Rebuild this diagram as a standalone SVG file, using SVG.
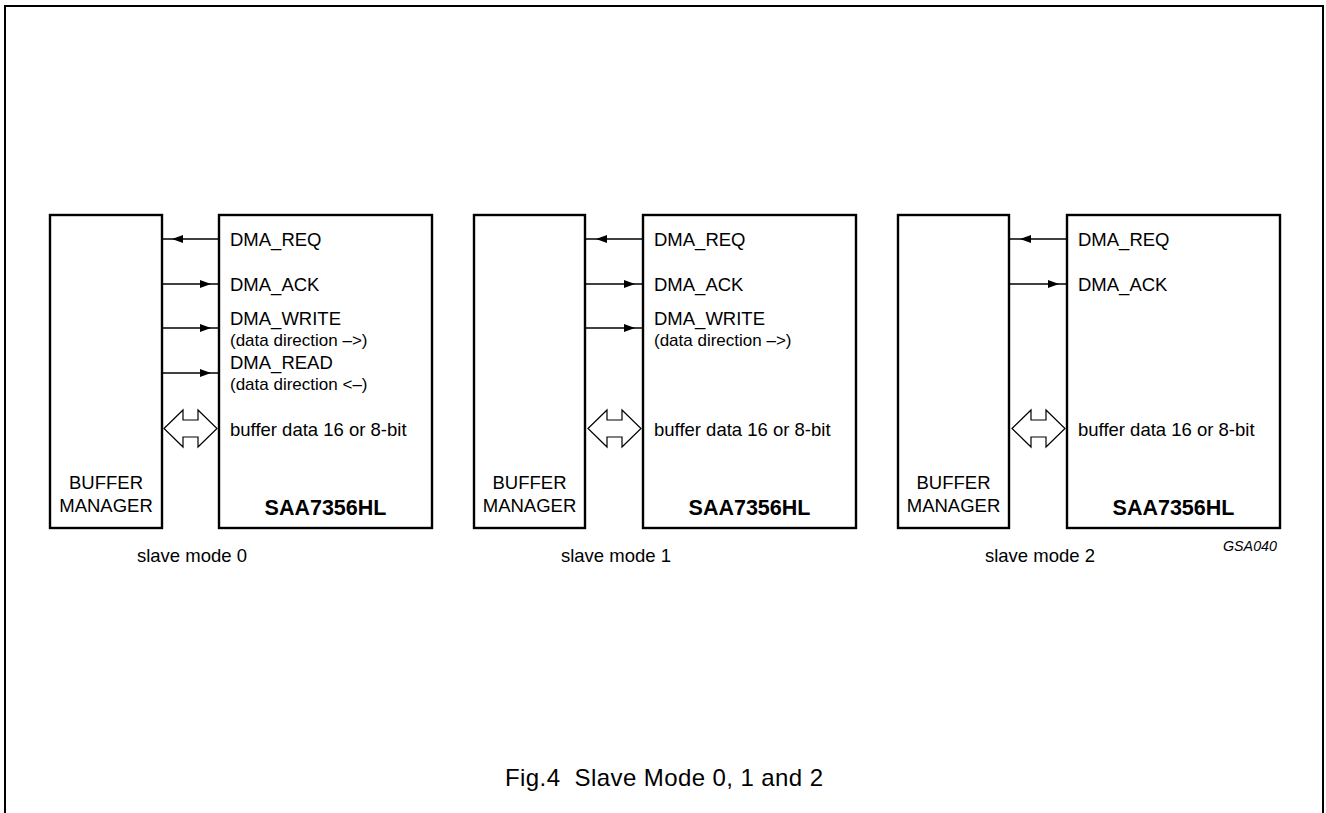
<svg xmlns="http://www.w3.org/2000/svg" width="1326" height="813" viewBox="0 0 1326 813">
<defs>
<style>
.box{fill:#fff;stroke:#000;stroke-width:2.4}
.frame{fill:none;stroke:#000;stroke-width:2}
.ln{stroke:#000;stroke-width:1.3;fill:none}
.bus{fill:#fff;stroke:#000;stroke-width:1.2;stroke-linejoin:miter}
.t{font-family:"Liberation Sans",Arial,sans-serif;font-size:18.5px;fill:#000}
.s{font-family:"Liberation Sans",Arial,sans-serif;font-size:17px;fill:#000}
.b{font-family:"Liberation Sans",Arial,sans-serif;font-size:21.5px;font-weight:bold;fill:#000}
.m{text-anchor:middle}
.cap{font-family:"Liberation Sans",Arial,sans-serif;font-size:24px;fill:#000;white-space:pre}
.id{font-family:"Liberation Sans",Arial,sans-serif;font-size:14.3px;font-style:italic;fill:#000}
</style>
</defs>
<rect width="1326" height="813" fill="#fff"/>
<path class="frame" d="M5,813 V6 H1323 V813"/>

<g id="mode0">
<g id="bm0"><rect class="box" x="50" y="215" width="112" height="313"/>
<text class="t m" x="106" y="489">BUFFER</text><text class="t m" x="106" y="512">MANAGER</text></g>
<g id="saa0"><rect class="box" x="219" y="215" width="213" height="313"/>
<text class="t" x="230" y="246">DMA_REQ</text>
<text class="t" x="230" y="291">DMA_ACK</text>
<text class="t" x="230" y="325">DMA_WRITE</text>
<text class="s" x="230" y="346">(data direction –&gt;)</text>
<text class="t" x="230" y="369">DMA_READ</text>
<text class="s" x="230" y="390">(data direction &lt;–)</text>
<text class="t" x="230" y="436">buffer data 16 or 8-bit</text>
<text class="b m" x="325.5" y="515">SAA7356HL</text></g>
<text class="t m" x="192" y="562">slave mode 0</text>
</g>

<g id="mode1">
<g id="bm1"><rect class="box" x="474" y="215" width="111" height="313"/>
<text class="t m" x="529.5" y="489">BUFFER</text><text class="t m" x="529.5" y="512">MANAGER</text></g>
<g id="saa1"><rect class="box" x="643" y="215" width="213" height="313"/>
<text class="t" x="654" y="246">DMA_REQ</text>
<text class="t" x="654" y="291">DMA_ACK</text>
<text class="t" x="654" y="325">DMA_WRITE</text>
<text class="s" x="654" y="346">(data direction –&gt;)</text>
<text class="t" x="654" y="436">buffer data 16 or 8-bit</text>
<text class="b m" x="749.5" y="515">SAA7356HL</text></g>
<text class="t m" x="616" y="562">slave mode 1</text>
</g>

<g id="mode2">
<g id="bm2"><rect class="box" x="898" y="215" width="111" height="313"/>
<text class="t m" x="953.5" y="489">BUFFER</text><text class="t m" x="953.5" y="512">MANAGER</text></g>
<g id="saa2"><rect class="box" x="1067" y="215" width="213" height="313"/>
<text class="t" x="1078" y="246">DMA_REQ</text>
<text class="t" x="1078" y="291">DMA_ACK</text>
<text class="t" x="1078" y="436">buffer data 16 or 8-bit</text>
<text class="b m" x="1173.5" y="515">SAA7356HL</text></g>
<text class="t m" x="1040" y="562">slave mode 2</text>
</g>

<g id="connectors">
<line class="ln" x1="219" y1="239" x2="162" y2="239"/><path d="M172,239 L183,235 L183,243 Z"/>
<line class="ln" x1="162" y1="284" x2="219" y2="284"/><path d="M211,284 L200,280 L200,288 Z"/>
<line class="ln" x1="162" y1="328" x2="219" y2="328"/><path d="M211,328 L200,324 L200,332 Z"/>
<line class="ln" x1="162" y1="373" x2="219" y2="373"/><path d="M211,373 L200,369 L200,377 Z"/>
<path class="bus" d="M164,428.5 L183,410 L183,420 L198,420 L198,410 L217,428.5 L198,447 L198,437 L183,437 L183,447 Z"/>

<line class="ln" x1="643" y1="239" x2="585" y2="239"/><path d="M596,239 L607,235 L607,243 Z"/>
<line class="ln" x1="585" y1="284" x2="643" y2="284"/><path d="M635,284 L624,280 L624,288 Z"/>
<line class="ln" x1="585" y1="328" x2="643" y2="328"/><path d="M635,328 L624,324 L624,332 Z"/>
<path class="bus" d="M588,428.5 L607,410 L607,420 L622,420 L622,410 L641,428.5 L622,447 L622,437 L607,437 L607,447 Z"/>

<line class="ln" x1="1067" y1="239" x2="1009" y2="239"/><path d="M1020,239 L1031,235 L1031,243 Z"/>
<line class="ln" x1="1009" y1="284" x2="1067" y2="284"/><path d="M1059,284 L1048,280 L1048,288 Z"/>
<path class="bus" d="M1012,428.5 L1031,410 L1031,420 L1046,420 L1046,410 L1065,428.5 L1046,447 L1046,437 L1031,437 L1031,447 Z"/>
</g>

<text class="id" x="1277" y="551" text-anchor="end">GSA040</text>
<text class="cap" x="505" y="786" xml:space="preserve" textLength="318" lengthAdjust="spacing">Fig.4  Slave Mode 0, 1 and 2</text>
</svg>
